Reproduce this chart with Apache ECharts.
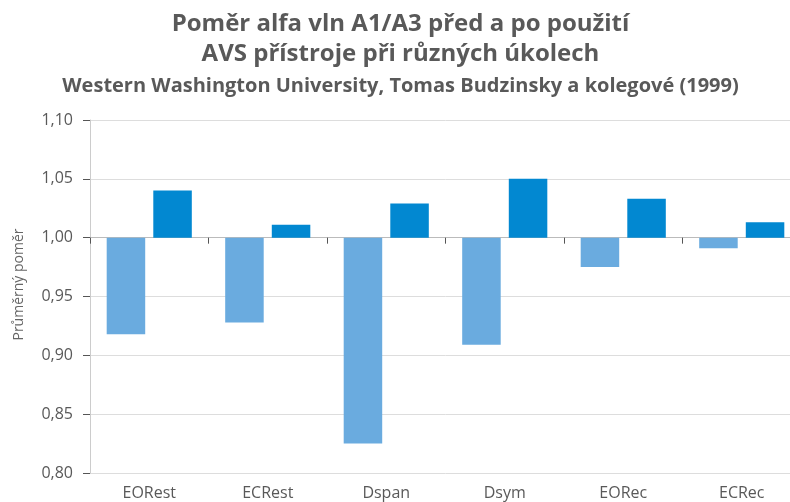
<!DOCTYPE html>
<html>
<head>
<meta charset="utf-8">
<script src="https://cdn.jsdelivr.net/npm/echarts@6/dist/echarts.min.js"></script>
<style>
  html, body { margin: 0; padding: 0; background: #fff; overflow: hidden; }
  #main { width: 801px; height: 502px; }
</style>
</head>
<body>
<div id="main"></div>
<script>
// kategorie (úkoly)
var categories = ['EORest', 'ECRest', 'Dspan', 'Dsym', 'EORec', 'ECRec'];
// průměrný poměr A1/A3 před a po použití AVS
var before = [0.918, 0.928, 0.825, 0.909, 0.975, 0.991];
var after = [1.040, 1.011, 1.029, 1.050, 1.033, 1.013];
var base = 1.0; // sloupce vychází z 1,00

// graf je o kousek širší než okno, pravý okraj je oříznutý
var myChart = echarts.init(document.getElementById('main'));

function shift(arr) {
    return arr.map(function (v) { return +(v - base).toFixed(4); });
}

var option = {
    backgroundColor: '#fff',
    animation: false,
    title: [
        {
            text: 'Poměr alfa vln A1/A3 před a po použití\nAVS přístroje při různých úkolech',
            left: 'center',
            top: 4,
            textStyle: {
                fontFamily: 'Open Sans',
                fontSize: 24,
                fontWeight: 'bold',
                color: '#595959',
                lineHeight: 30
            }
        },
        {
            text: 'Western Washington University, Tomas Budzinsky a kolegové (1999)',
            left: 'center',
            top: 71,
            textStyle: {
                fontFamily: 'Open Sans',
                fontSize: 20,
                fontWeight: 'bold',
                color: '#595959'
            }
        }
    ],
    grid: { left: 90, right: 0, top: 120, bottom: 29 },
    xAxis: {
        type: 'category',
        data: categories,
        axisLine: { lineStyle: { color: '#bbb' } },
        axisTick: { show: true, length: 6, lineStyle: { color: '#555' } },
        axisLabel: { fontFamily: 'Open Sans', fontSize: 16, color: '#595959', margin: 12 }
    },
    yAxis: {
        type: 'value',
        min: -0.2,
        max: 0.1,
        interval: 0.05,
        name: 'Průměrný poměr',
        nameLocation: 'middle',
        nameGap: 64,
        nameTextStyle: { fontFamily: 'Open Sans', fontSize: 14, color: '#666', padding: [0, 0, 0, 24] },
        axisLine: { show: true, lineStyle: { color: '#ccc' } },
        axisTick: { show: true, length: 7, lineStyle: { color: '#555' } },
        splitLine: { lineStyle: { color: '#ddd' } },
        axisLabel: {
            fontFamily: 'Open Sans',
            fontSize: 16,
            color: '#595959',
            margin: 17,
            formatter: function (v) {
                return (base + v).toFixed(2).replace('.', ',');
            }
        }
    },
    series: [
        {
            name: 'před',
            type: 'bar',
            data: shift(before),
            barWidth: '32.5%',
            barGap: '21%',
            itemStyle: { color: '#6aabdf' }
        },
        {
            name: 'po',
            type: 'bar',
            data: shift(after),
            barWidth: '32.5%',
            barGap: '21%',
            itemStyle: { color: '#0288d1' }
        }
    ]
};

myChart.setOption(option);
</script>
</body>
</html>
